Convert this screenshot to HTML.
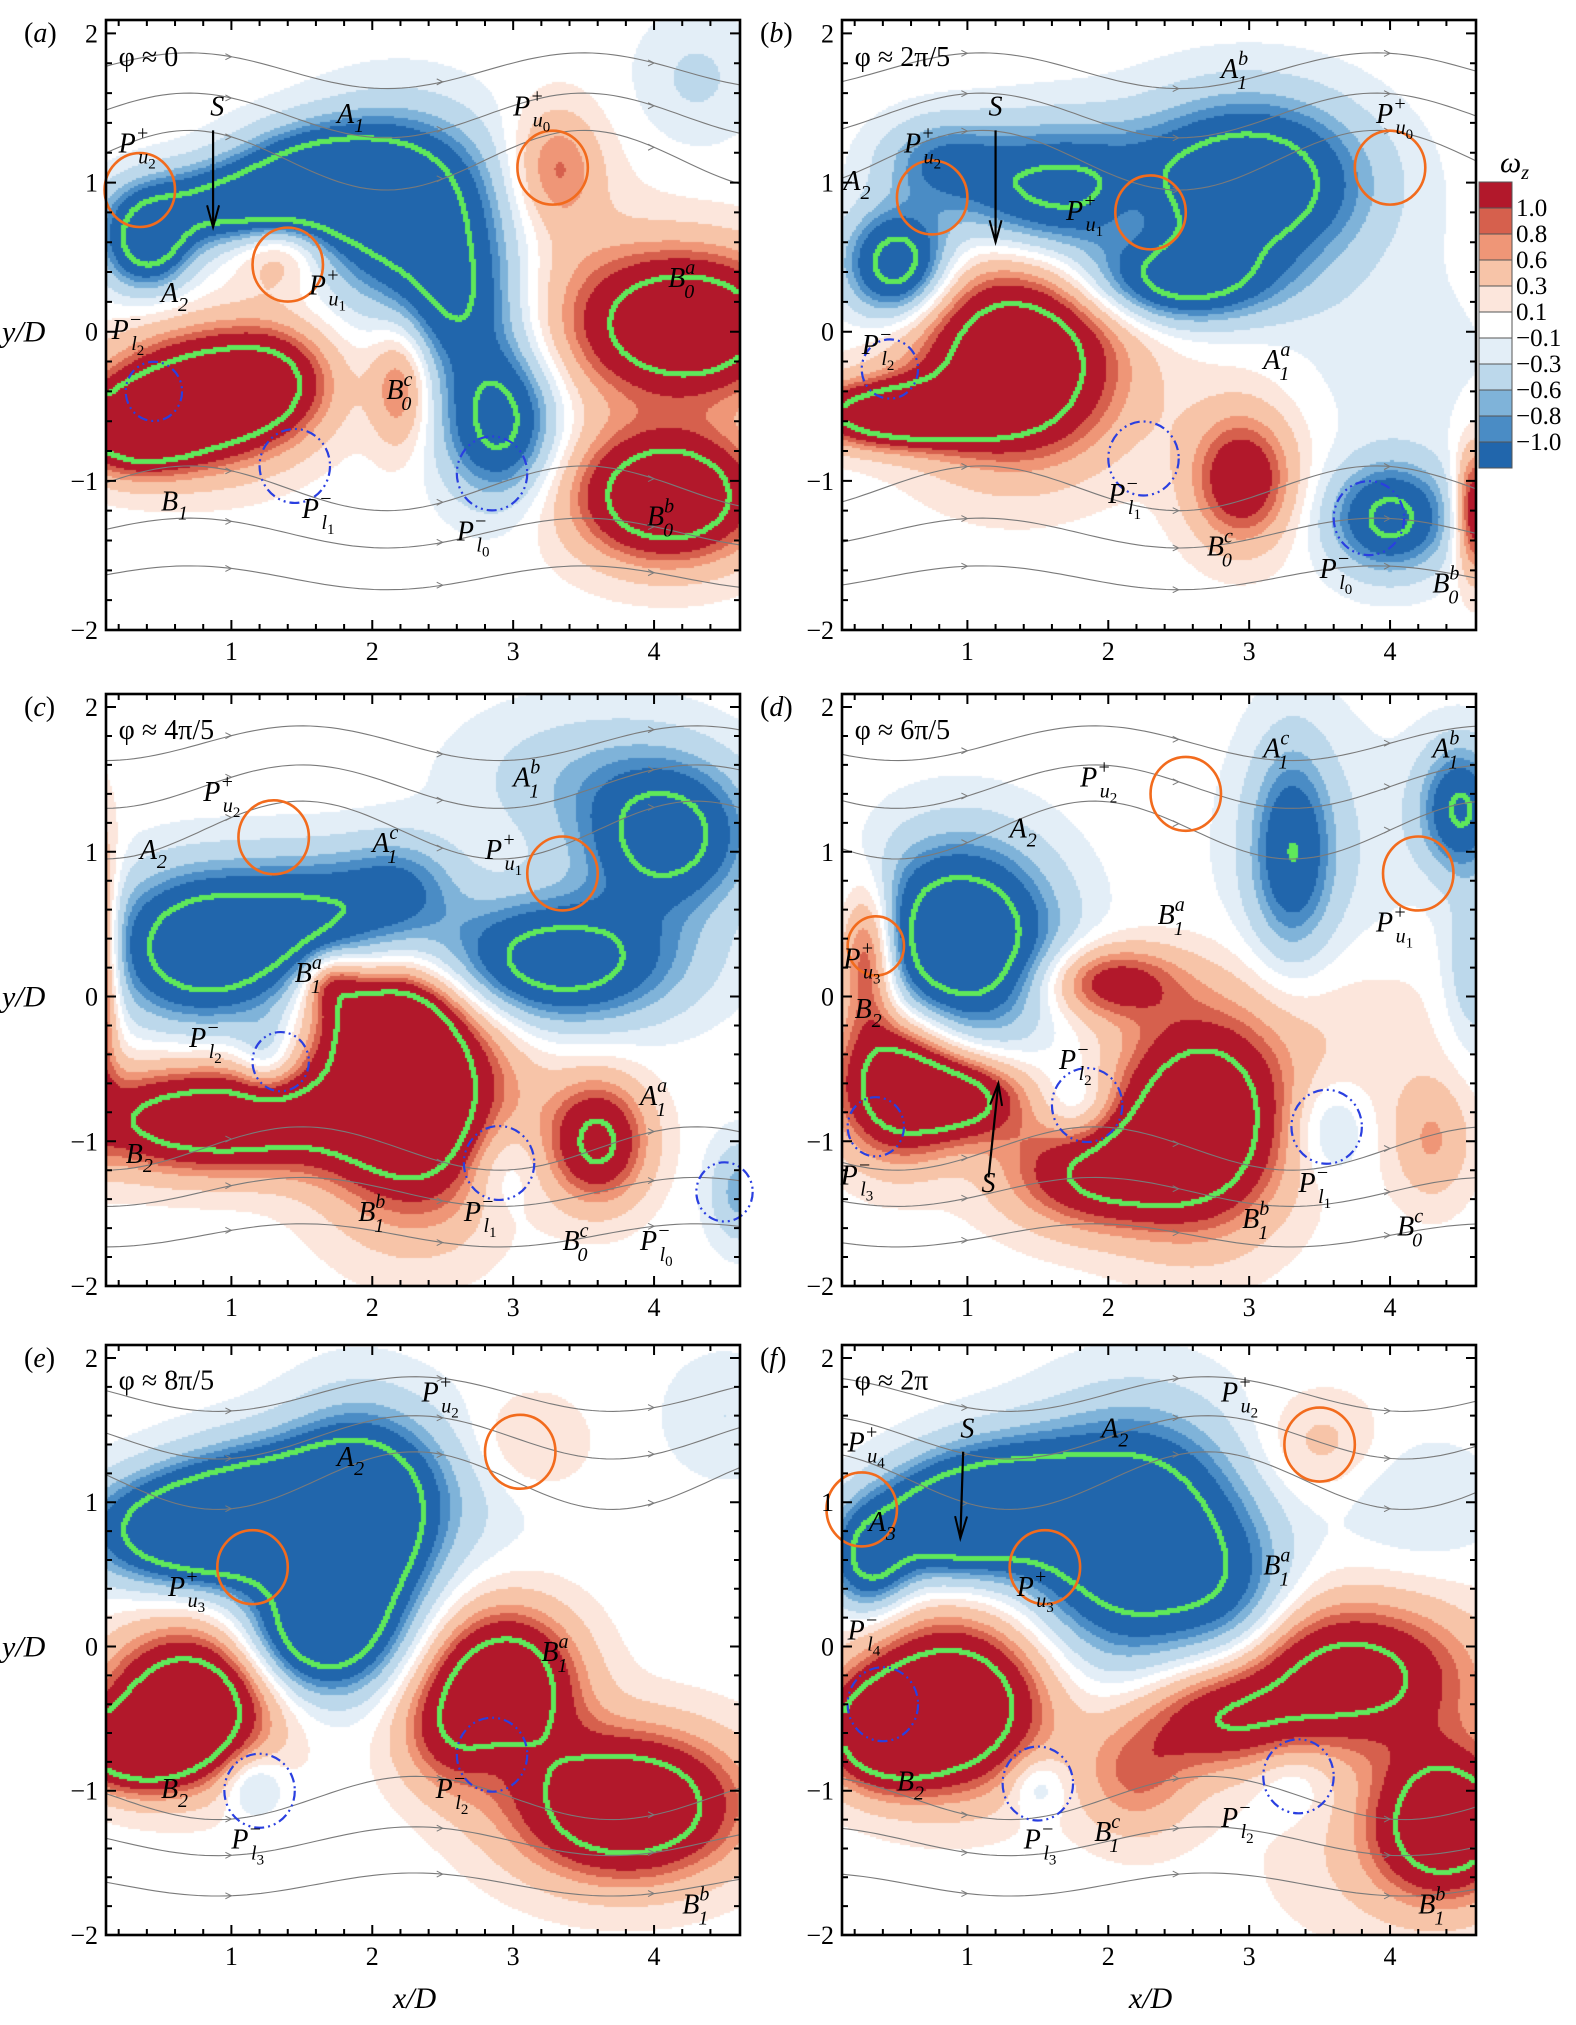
<!DOCTYPE html>
<html><head><meta charset="utf-8">
<style>
html,body{margin:0;padding:0;background:#fff;}
#wrap{position:relative;width:1576px;height:2025px;overflow:hidden;background:#fff;}
canvas{position:absolute;}
svg{position:absolute;left:0;top:0;}
text{font-family:"Liberation Serif",serif;}
</style></head>
<body>
<div id="wrap">
<svg id="ov" width="1576" height="2025"></svg>
</div>
<script>
// ---- data: vortex blobs [x, y, sx, sy, amplitude] per panel ----
const vortA=[[0.4,0.6,0.22,0.22,-1.8],[1.0,0.85,0.45,0.18,-1.6],[1.6,1.05,0.4,0.22,-1.6],[2.2,0.85,0.45,0.4,-2.0],[2.6,0.2,0.3,0.35,-1.2],[2.9,-0.6,0.28,0.35,-1.7],[0.8,-0.45,0.45,0.3,2.2],[0.3,-0.65,0.3,0.2,1.8],[1.3,-0.3,0.3,0.25,1.0],[4.25,0.05,0.5,0.33,2.3],[4.1,-1.1,0.45,0.3,2.3],[2.2,-0.35,0.15,0.3,0.9],[3.3,1.1,0.22,0.28,0.8],[1.35,0.55,0.22,0.2,0.7],[3.5,0.2,0.4,0.6,0.3],[4.3,1.7,0.3,0.3,-0.35]];
const vortB=[[3.0,1.0,0.55,0.38,-2.1],[1.6,0.95,0.5,0.3,-1.6],[0.8,1.15,0.3,0.2,-0.8],[0.5,0.45,0.25,0.25,-1.9],[2.5,0.35,0.45,0.2,-1.6],[4.0,-1.25,0.3,0.25,-1.6],[3.6,-0.3,0.8,0.6,-0.25],[1.35,-0.2,0.5,0.45,2.3],[0.5,-0.55,0.45,0.15,2.1],[2.2,0.8,0.2,0.2,0.4],[2.95,-1.0,0.25,0.3,1.3],[4.6,-1.2,0.1,0.3,1.5],[3.0,-0.6,0.5,0.5,0.3]];
const vortC=[[0.8,0.35,0.45,0.35,-2.1],[1.6,0.55,0.4,0.3,-1.2],[2.2,0.75,0.3,0.25,-0.9],[3.3,0.25,0.6,0.3,-1.9],[4.1,1.1,0.4,0.35,-1.7],[3.5,1.5,0.6,0.35,-0.5],[1.25,-0.45,0.15,0.2,-0.6],[2.9,-1.15,0.2,0.25,-0.5],[4.6,-1.35,0.15,0.25,-0.7],[0.9,-0.85,0.7,0.25,2.1],[2.3,-0.7,0.45,0.55,2.3],[2.1,-0.2,0.3,0.25,1.5],[0.05,0.2,0.1,0.6,1.5],[3.6,-1.0,0.25,0.3,1.6],[1.7,0.1,0.15,0.15,1.0]];
const vortD=[[0.95,0.4,0.45,0.45,-2.3],[3.3,1.0,0.2,0.5,-1.2],[4.5,1.3,0.2,0.3,-1.5],[4.6,0.2,0.15,0.4,-0.6],[1.8,-0.8,0.2,0.2,-0.6],[3.55,-0.9,0.2,0.25,-0.5],[3.5,0.9,0.5,0.7,-0.3],[2.65,-0.85,0.42,0.5,2.2],[1.9,-1.2,0.45,0.28,1.5],[0.5,-0.6,0.3,0.35,2.0],[1.0,-0.7,0.3,0.2,1.5],[2.0,0.1,0.35,0.18,1.2],[0.3,0.3,0.15,0.35,1.5],[4.3,-1.0,0.2,0.3,0.6],[3.6,-0.2,0.6,0.5,0.3]];
const vortE=[[0.7,0.8,0.5,0.25,-2.0],[1.3,0.95,0.5,0.3,-2.0],[1.9,0.8,0.35,0.5,-2.0],[1.6,0.1,0.35,0.3,-1.8],[2.2,1.1,0.6,0.4,-0.5],[1.15,-0.95,0.15,0.15,-0.6],[2.85,-0.7,0.2,0.2,-0.4],[4.5,1.6,0.3,0.3,-0.3],[0.7,-0.4,0.4,0.35,2.3],[0.3,-0.7,0.3,0.2,1.8],[2.95,-0.25,0.35,0.35,2.1],[2.6,-0.6,0.3,0.3,1.0],[3.8,-1.1,0.55,0.35,2.3],[3.1,1.4,0.3,0.25,0.4]];
const vortF=[[2.2,0.75,0.5,0.55,-2.3],[1.3,1.0,0.45,0.3,-1.8],[0.8,0.85,0.35,0.25,-1.5],[0.3,0.6,0.2,0.25,-1.5],[2.9,0.3,0.3,0.4,-0.7],[1.5,-0.95,0.15,0.15,-0.5],[3.3,-0.9,0.2,0.2,-0.3],[4.2,1.0,0.4,0.3,-0.3],[0.9,-0.4,0.45,0.4,2.3],[0.4,-0.6,0.3,0.25,1.8],[3.7,-0.2,0.6,0.35,1.8],[2.8,-0.5,0.4,0.25,1.2],[4.4,-1.2,0.35,0.35,2.1],[2.2,-0.9,0.3,0.3,0.8],[4.0,-1.5,0.6,0.4,0.3],[3.5,1.4,0.3,0.25,0.4]];
// orange (positive) and blue (negative) marker circles [x, y, r]
const orangeA=[[0.35,0.95,0.25],[1.4,0.45,0.25],[3.28,1.1,0.25]];
const blueA=[[0.45,-0.4,0.2],[1.45,-0.9,0.25],[2.85,-0.95,0.25]];
const orangeB=[[0.75,0.9,0.25],[2.3,0.8,0.25],[4.0,1.1,0.25]];
const blueB=[[0.45,-0.25,0.2],[2.25,-0.85,0.25],[3.85,-1.25,0.25]];
const orangeC=[[1.3,1.1,0.25],[3.35,0.85,0.25]];
const blueC=[[1.35,-0.45,0.2],[2.9,-1.15,0.25],[4.5,-1.35,0.2]];
const orangeD=[[2.55,1.4,0.25],[4.2,0.85,0.25],[0.35,0.35,0.2]];
const blueD=[[1.85,-0.75,0.25],[3.55,-0.9,0.25],[0.35,-0.9,0.2]];
const orangeE=[[3.05,1.35,0.25],[1.15,0.55,0.25]];
const blueE=[[1.2,-1.0,0.25],[2.85,-0.75,0.25]];
const orangeF=[[0.25,0.95,0.25],[1.55,0.55,0.25],[3.5,1.4,0.25]];
const blueF=[[0.4,-0.4,0.25],[1.5,-0.95,0.25],[3.35,-0.9,0.25]];
// labels [x, y, base, sub, sup]
const labelsA=[[0.85,1.45,"S","",""],[0.2,1.2,"P","u2","+"],[1.75,1.4,"A","1",""],[3.0,1.45,"P","u0","+"],[0.5,0.2,"A","2",""],[1.55,0.25,"P","u1","+"],[4.1,0.3,"B","0","a"],[0.15,-0.05,"P","l2","−"],[2.1,-0.45,"B","0","c"],[0.5,-1.2,"B","1",""],[1.5,-1.25,"P","l1","−"],[2.6,-1.4,"P","l0","−"],[3.95,-1.3,"B","0","b"]];
const labelsB=[[1.15,1.45,"S","",""],[2.8,1.7,"A","1","b"],[0.55,1.2,"P","u2","+"],[3.9,1.4,"P","u0","+"],[0.12,0.95,"A","2",""],[1.7,0.75,"P","u1","+"],[3.1,-0.25,"A","1","a"],[0.25,-0.15,"P","l2","−"],[2.0,-1.15,"P","l1","−"],[2.7,-1.5,"B","0","c"],[3.5,-1.65,"P","l0","−"],[4.3,-1.75,"B","0","b"]];
const labelsC=[[3.0,1.45,"A","1","b"],[0.8,1.35,"P","u2","+"],[0.35,0.95,"A","2",""],[2.0,1.0,"A","1","c"],[2.8,0.95,"P","u1","+"],[1.45,0.1,"B","1","a"],[0.7,-0.35,"P","l2","−"],[3.9,-0.75,"A","1","a"],[0.25,-1.15,"B","2",""],[1.9,-1.55,"B","1","b"],[2.65,-1.55,"P","l1","−"],[3.35,-1.75,"B","0","c"],[3.9,-1.75,"P","l0","−"]];
const labelsD=[[1.8,1.45,"P","u2","+"],[3.1,1.65,"A","1","c"],[4.3,1.65,"A","1","b"],[1.3,1.1,"A","2",""],[3.9,0.45,"P","u1","+"],[0.12,0.2,"P","u3","+"],[2.35,0.5,"B","1","a"],[0.2,-0.15,"B","2",""],[1.65,-0.5,"P","l2","−"],[1.1,-1.35,"S","",""],[0.1,-1.3,"P","l3","−"],[2.95,-1.6,"B","1","b"],[3.35,-1.35,"P","l1","−"],[4.05,-1.65,"B","0","c"]];
const labelsE=[[2.35,1.7,"P","u2","+"],[1.75,1.25,"A","2",""],[0.55,0.35,"P","u3","+"],[3.2,-0.1,"B","1","a"],[0.5,-1.05,"B","2",""],[2.45,-1.05,"P","l2","−"],[1.0,-1.4,"P","l3","−"],[4.2,-1.85,"B","1","b"]];
const labelsF=[[0.95,1.45,"S","",""],[2.8,1.7,"P","u2","+"],[0.15,1.35,"P","u4","+"],[1.95,1.45,"A","2",""],[0.3,0.8,"A","3",""],[1.35,0.35,"P","u3","+"],[3.1,0.5,"B","1","a"],[0.15,0.05,"P","l4","−"],[0.5,-1.0,"B","2",""],[2.8,-1.25,"P","l2","−"],[1.4,-1.4,"P","l3","−"],[1.9,-1.35,"B","1","c"],[4.2,-1.85,"B","1","b"]];
// arrows for S [x0,y0,x1,y1]
const arrowsA=[[0.87,1.35,0.87,0.7]];
const arrowsB=[[1.2,1.35,1.2,0.6]];
const arrowsC=[];
const arrowsD=[[1.15,-1.25,1.22,-0.6]];
const arrowsE=[];
const arrowsF=[[0.97,1.35,0.95,0.75]];
// streamline base y positions and wave amplitude
const streamY=[1.75,1.45,1.15,-1.05,-1.35,-1.65];
const streamAmp=[0.12,0.15,0.2,0.15,0.1,0.08];
const phases=["φ ≈ 0","φ ≈ 2π/5","φ ≈ 4π/5","φ ≈ 6π/5","φ ≈ 8π/5","φ ≈ 2π"];
const xTicks=[1,2,3,4];
const yTicks=[2,1,0,-1,-2];
const levels=[1.0,0.8,0.6,0.3,0.1,-0.1,-0.3,-0.6,-0.8,-1.0];
const levelLabels=["1.0","0.8","0.6","0.3","0.1","−0.1","−0.3","−0.6","−0.8","−1.0"];
const levelColors=["#b2182b","#d6604d","#ef9677","#f7c4a8","#fce6dc","#ffffff","#e3eef7","#bcd8eb","#7fb3d9","#4a8cc5","#2166ac"];

const XMIN=0.11,XMAX=4.61,YMIN=-2,YMAX=2.09;
const panels=[
 {id:"a",L:106,T:20,W:634,H:610,v:vortA,o:orangeA,b:blueA,l:labelsA,ar:arrowsA,ph:0},
 {id:"b",L:842,T:20,W:634,H:610,v:vortB,o:orangeB,b:blueB,l:labelsB,ar:arrowsB,ph:0.4},
 {id:"c",L:106,T:694,W:634,H:592,v:vortC,o:orangeC,b:blueC,l:labelsC,ar:arrowsC,ph:0.8},
 {id:"d",L:842,T:694,W:634,H:592,v:vortD,o:orangeD,b:blueD,l:labelsD,ar:arrowsD,ph:1.2},
 {id:"e",L:106,T:1345,W:634,H:590,v:vortE,o:orangeE,b:blueE,l:labelsE,ar:arrowsE,ph:1.6},
 {id:"f",L:842,T:1345,W:634,H:590,v:vortF,o:orangeF,b:blueF,l:labelsF,ar:arrowsF,ph:2.0}
];
const NS="http://www.w3.org/2000/svg";
const ov=document.getElementById('ov');
const wrap=document.getElementById('wrap');
function mk(tag,attrs,parent){const e=document.createElementNS(NS,tag);for(const k in attrs)e.setAttribute(k,attrs[k]);(parent||ov).appendChild(e);return e;}
function colorIdx(v){if(v>=1)return 0;if(v>=0.8)return 1;if(v>=0.6)return 2;if(v>=0.3)return 3;if(v>=0.1)return 4;if(v>-0.1)return 5;if(v>-0.3)return 6;if(v>-0.6)return 7;if(v>-0.8)return 8;if(v>-1.0)return 9;return 10;}

panels.forEach((p,pi)=>{
 const sx=x=>p.L+(x-XMIN)/(XMAX-XMIN)*p.W;
 const sy=y=>p.T+(YMAX-y)/(YMAX-YMIN)*p.H;
 const su=p.W/(XMAX-XMIN);
 const g=mk('g',{});
 
 
 const cv=document.createElement('canvas');
 cv.width=p.W;cv.height=p.H;cv.style.left=p.L+'px';cv.style.top=p.T+'px';
 
 
 wrap.insertBefore(cv,ov);
 const ctx=cv.getContext('2d');
 const st=2,nx=Math.ceil(p.W/st),ny=Math.ceil(p.H/st);
 const F=new Float32Array(nx*ny);
 for(let j=0;j<ny;j++){const y=YMAX-(j*st+1)/p.H*(YMAX-YMIN);
  for(let i=0;i<nx;i++){const x=XMIN+(i*st+1)/p.W*(XMAX-XMIN);let s=0;
   for(const b of p.v){const dx=(x-b[0])/b[2],dy=(y-b[1])/b[3];s+=b[4]*Math.exp(-0.5*(dx*dx+dy*dy));}
   F[j*nx+i]=s;}}
 for(let j=0;j<ny;j++)for(let i=0;i<nx;i++){ctx.fillStyle=levelColors[colorIdx(F[j*nx+i])];ctx.fillRect(i*st,j*st,st,st);}
 ctx.fillStyle="#5fe85a";
 const TH=1.45;
 for(let j=1;j<ny-1;j++)for(let i=1;i<nx-1;i++){const v=F[j*nx+i];
  if(Math.abs(v)>=TH){const sg=Math.sign(v);
   const nb=[F[j*nx+i-1],F[j*nx+i+1],F[(j-1)*nx+i],F[(j+1)*nx+i]];
   if(nb.some(u=>u*sg<TH))ctx.fillRect(i*st-1,j*st-1,st+3,st+3);}}
 streamY.forEach((y0,k)=>{let d="";
  for(let x=XMIN;x<=XMAX+0.001;x+=0.05){const y=y0+streamAmp[k]*Math.sin(2*Math.PI*(x-p.ph)/2.8);d+=(d?"L":"M")+sx(x).toFixed(1)+","+sy(y).toFixed(1);}
  const s=mk('path',{d:d,fill:"none",stroke:"#7a7a7a","stroke-width":1.1},g);
  
  
  [1.0,2.5,4.0].forEach(xa=>{const y=y0+streamAmp[k]*Math.sin(2*Math.PI*(xa-p.ph)/2.8);
   const ah=mk('path',{d:`M${sx(xa)-6},${sy(y)-3}L${sx(xa)},${sy(y)}L${sx(xa)-6},${sy(y)+3}`,fill:"none",stroke:"#7a7a7a","stroke-width":1},g);
   
   });
 });
 p.o.forEach(c=>{const e=mk('ellipse',{cx:sx(c[0]),cy:sy(c[1]),rx:c[2]*su,ry:c[2]*su*1.05,fill:"none",stroke:"#f26b1d","stroke-width":2.6},g);
  
  });
 p.b.forEach(c=>{const e=mk('ellipse',{cx:sx(c[0]),cy:sy(c[1]),rx:c[2]*su,ry:c[2]*su*1.05,fill:"none",stroke:"#2a3fe0","stroke-width":2.2,"stroke-dasharray":"10 4 2 4 2 4"},g);
  
  });
 p.ar.forEach(a=>{const x0=sx(a[0]),y0=sy(a[1]),x1=sx(a[2]),y1=sy(a[3]);
  const ln=mk('line',{x1:x0,y1:y0,x2:x1,y2:y1,stroke:"#000","stroke-width":2.2},g);
  
  
  const ang=Math.atan2(y1-y0,x1-x0);const hl=22,hw=6;
  const bx=x1-hl*Math.cos(ang),by=y1-hl*Math.sin(ang);
  const hd=mk('path',{d:`M${bx-hw*Math.sin(ang)},${by+hw*Math.cos(ang)}L${x1},${y1}L${bx+hw*Math.sin(ang)},${by-hw*Math.cos(ang)}`,fill:"none",stroke:"#000","stroke-width":2},g);
  
  });
 p.l.forEach(t=>{const tx=mk('text',{x:sx(t[0]),y:sy(t[1]),"font-size":28,"font-style":"italic",fill:"#000"},g);
  
  
  const b=mk('tspan',{},tx);b.textContent=t[2];
  let dxBack=0;
  if(t[4]){const s=mk('tspan',{dy:-13,"font-size":20},tx);s.textContent=t[4];dxBack=t[4].length*10+1;}
  if(t[3]){const s=mk('tspan',{dx:t[4]?-dxBack:0,dy:t[4]?24:9,"font-size":20},tx);s.textContent=t[3].charAt(0);
   if(t[3].length>1){const s2=mk('tspan',{dy:5,"font-size":15,"font-style":"normal"},tx);s2.textContent=t[3].slice(1);}}
 });
 const ph=mk('text',{x:sx(0.2),y:sy(1.78),"font-size":28,fill:"#000"},g);
 ph.textContent=phases[pi];
 
 
 const fr=mk('rect',{x:p.L,y:p.T,width:p.W,height:p.H,fill:"none",stroke:"#000","stroke-width":2.6},g);
 
 
 let d="";
 for(let k=1;k<=22;k++){const x=k*0.2;if(x<XMIN||x>XMAX)continue;const maj=Math.abs(x-Math.round(x))<1e-6;const len=maj?10:6;const X=sx(x);
  d+=`M${X},${p.T+p.H}v${-len}M${X},${p.T}v${len}`;}
 for(let k=-10;k<=10;k++){const y=k*0.2;const maj=Math.abs(y-Math.round(y))<1e-6;const len=maj?10:6;const Y=sy(y);
  d+=`M${p.L},${Y}h${len}M${p.L+p.W},${Y}h${-len}`;}
 const tk=mk('path',{d:d,stroke:"#000","stroke-width":2,fill:"none"},g);
 
 
 xTicks.forEach(v=>{const t=mk('text',{x:sx(v),y:p.T+p.H+30,"font-size":26,"text-anchor":"middle"},g);t.textContent=String(v);
  
  });
 yTicks.forEach(v=>{const t=mk('text',{x:p.L-8,y:sy(v)+9,"font-size":26,"text-anchor":"end"},g);t.textContent=v<0?"−"+(-v):String(v);
  
  });
 const pl=mk('text',{x:p.L-82,y:p.T+22,"font-size":28},g);
 
 
 const a1=mk('tspan',{},pl);a1.textContent="(";const a2=mk('tspan',{"font-style":"italic"},pl);a2.textContent=p.id;const a3=mk('tspan',{},pl);a3.textContent=")";
 if(p.L<500){const yl=mk('text',{x:p.L-104,y:sy(0)+10,"font-size":30,"font-style":"italic"},g);yl.textContent="y/D";
  
  }
 if(p.T>1300){const xl=mk('text',{x:sx(2.3),y:2008,"font-size":30,"font-style":"italic","text-anchor":"middle"},g);xl.textContent="x/D";
  
  }
});
const cb=mk('g',{});


const cbX=1479,cbY=182,cbW=33,cbH=26;
for(let i=0;i<11;i++){const r=mk('rect',{x:cbX,y:cbY+i*cbH,width:cbW,height:cbH,fill:levelColors[i],stroke:"#555","stroke-width":1},cb);
 
 }
levelLabels.forEach((s,i)=>{const t=mk('text',{x:1516,y:cbY+(i+1)*cbH+8,"font-size":25},cb);t.textContent=s;
 
 });
const om=mk('text',{x:1500,y:172,"font-size":30,"font-style":"italic"},cb);


const o1=mk('tspan',{},om);o1.textContent="ω";const o2=mk('tspan',{dy:7,"font-size":20},om);o2.textContent="z";
</script>
</body></html>
